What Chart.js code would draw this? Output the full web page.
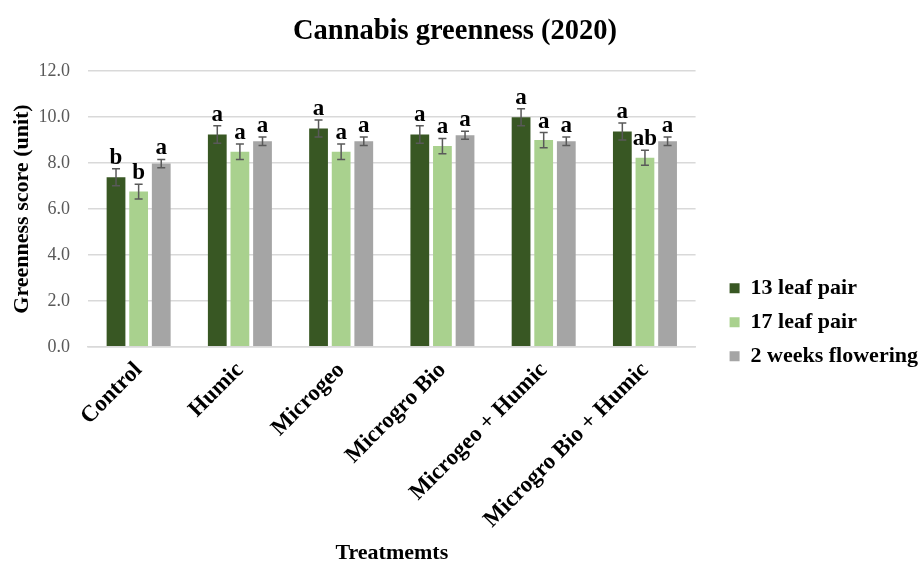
<!DOCTYPE html>
<html>
<head>
<meta charset="utf-8">
<title>Cannabis greenness (2020)</title>
<script src="https://cdn.jsdelivr.net/npm/chart.js@4"></script>
<style>
  html, body { margin: 0; padding: 0; background: #ffffff; }
  #wrap { width: 921px; height: 564px; }
</style>
</head>
<body>
<div id="wrap"><canvas id="canvas"></canvas></div>
<script>
"use strict";

// data
const treatments = ["Control", "Humic", "Microgeo", "Microgro Bio", "Microgeo + Humic", "Microgro Bio + Humic"];
const seriesNames = ["13 leaf pair", "17 leaf pair", "2 weeks flowering"];

const leaf13 = [7.38, 9.24, 9.50, 9.24, 10.00, 9.37];
const leaf17 = [6.76, 8.49, 8.49, 8.74, 9.00, 8.23];
const flower2 = [7.98, 8.95, 8.95, 9.21, 8.95, 8.95];

const err13 = [0.37, 0.38, 0.37, 0.38, 0.37, 0.37];
const err17 = [0.32, 0.34, 0.34, 0.33, 0.33, 0.33];
const errFlower = [0.18, 0.19, 0.19, 0.17, 0.19, 0.19];

const letters13 = ["b", "a", "a", "a", "a", "a"];
const letters17 = ["b", "a", "a", "a", "a", "ab"];
const lettersFlower = ["a", "a", "a", "a", "a", "a"];

const yTicks = [0, 2, 4, 6, 8, 10, 12];

const colors = ["#385723", "#a9d18e", "#a5a5a5"];
const serif = "'Liberation Serif', 'Times New Roman', serif";

// error bars + significance letters, drawn from the bar elements and y scale
const errorBarPlugin = {
    id: "errorBars",
    afterDatasetsDraw(chart) {
        let ctx = chart.ctx;
        let yScale = chart.scales.y;
        chart.data.datasets.forEach((ds, di) => {
            let meta = chart.getDatasetMeta(di);
            meta.data.forEach((bar, i) => {
                let v = ds.data[i];
                let e = ds.errors[i];
                let yTop = yScale.getPixelForValue(v + e);
                let yBot = yScale.getPixelForValue(v - e);
                let x = bar.x;
                ctx.save();
                ctx.strokeStyle = "#595959";
                ctx.lineWidth = 1.5;
                ctx.beginPath();
                ctx.moveTo(x, yTop);
                ctx.lineTo(x, yBot);
                ctx.moveTo(x - 4, yTop);
                ctx.lineTo(x + 4, yTop);
                ctx.moveTo(x - 4, yBot);
                ctx.lineTo(x + 4, yBot);
                ctx.stroke();
                ctx.fillStyle = "#000000";
                ctx.font = "bold 23px " + serif;
                ctx.textAlign = "center";
                ctx.textBaseline = "alphabetic";
                ctx.fillText(ds.letters[i], x, yTop - 5);
                ctx.restore();
            });
        });
    }
};

window.addEventListener('DOMContentLoaded', () => {
    let ctx = document.getElementById('canvas').getContext('2d');

    new Chart(ctx, {
        type: 'bar',
        data: {
            labels: treatments,
            datasets: [
                { label: seriesNames[0], data: leaf13, errors: err13, letters: letters13, backgroundColor: colors[0] },
                { label: seriesNames[1], data: leaf17, errors: err17, letters: letters17, backgroundColor: colors[1] },
                { label: seriesNames[2], data: flower2, errors: errFlower, letters: lettersFlower, backgroundColor: colors[2] }
            ]
        },
        options: {
            responsive: true,
            maintainAspectRatio: false,
            animation: false,
            datasets: {
                bar: { categoryPercentage: 0.67, barPercentage: 0.83 }
            },
            // uneven padding so the centred title lands where the original has it
            layout: { padding: { top: 0, right: -7, bottom: 0, left: -18 } },
            plugins: {
                title: {
                    display: true,
                    text: 'Cannabis greenness (2020)',
                    color: '#000000',
                    font: { family: serif, size: 28.5, weight: 'bold' },
                    padding: { top: 15, bottom: 22 }
                },
                legend: {
                    position: 'right',
                    maxWidth: 300,
                    title: { display: true, text: '', padding: { top: 66, bottom: 0 } },
                    labels: {
                        color: '#000000',
                        font: { family: serif, size: 22, weight: 'bold' },
                        boxWidth: 10,
                        boxHeight: 10,
                        padding: 12
                    }
                },
                tooltip: { enabled: false }
            },
            scales: {
                x: {
                    grid: { display: false },
                    border: { display: true, color: '#d9d9d9', width: 1.5 },
                    ticks: {
                        color: '#000000',
                        font: { family: serif, size: 23, weight: 'bold' },
                        minRotation: 45,
                        maxRotation: 45,
                        padding: 2
                    },
                    // let the rotated first label hang past the plot edge
                    afterFit: (scale) => {
                        scale.paddingLeft = 0;
                        scale.paddingRight = 0;
                    },
                    title: {
                        display: true,
                        text: 'Treatmemts',
                        color: '#000000',
                        font: { family: serif, size: 22, weight: 'bold' },
                        padding: { top: 5, bottom: -3 }
                    }
                },
                y: {
                    min: 0,
                    max: 12,
                    afterBuildTicks: (scale) => {
                        scale.ticks = yTicks.map(v => ({ value: v }));
                    },
                    afterFit: (scale) => { scale.width = 106; },
                    grid: { color: '#d9d9d9', lineWidth: 1.5, drawTicks: false },
                    border: { display: false },
                    ticks: {
                        color: '#595959',
                        font: { family: serif, size: 18 },
                        padding: 18,
                        callback: (v) => Number(v).toFixed(1)
                    },
                    title: {
                        display: true,
                        text: 'Greenness score (unit)',
                        color: '#000000',
                        font: { family: serif, size: 22, weight: 'bold' },
                        padding: { top: 27, bottom: 0 }
                    }
                },
                // empty spacer between plot and legend
                gap: {
                    type: 'linear',
                    position: 'right',
                    display: true,
                    grid: { display: false },
                    border: { display: false },
                    ticks: { display: false },
                    afterFit: (scale) => { scale.width = 22; }
                }
            }
        },
        plugins: [errorBarPlugin]
    });
});
</script>
</body>
</html>
